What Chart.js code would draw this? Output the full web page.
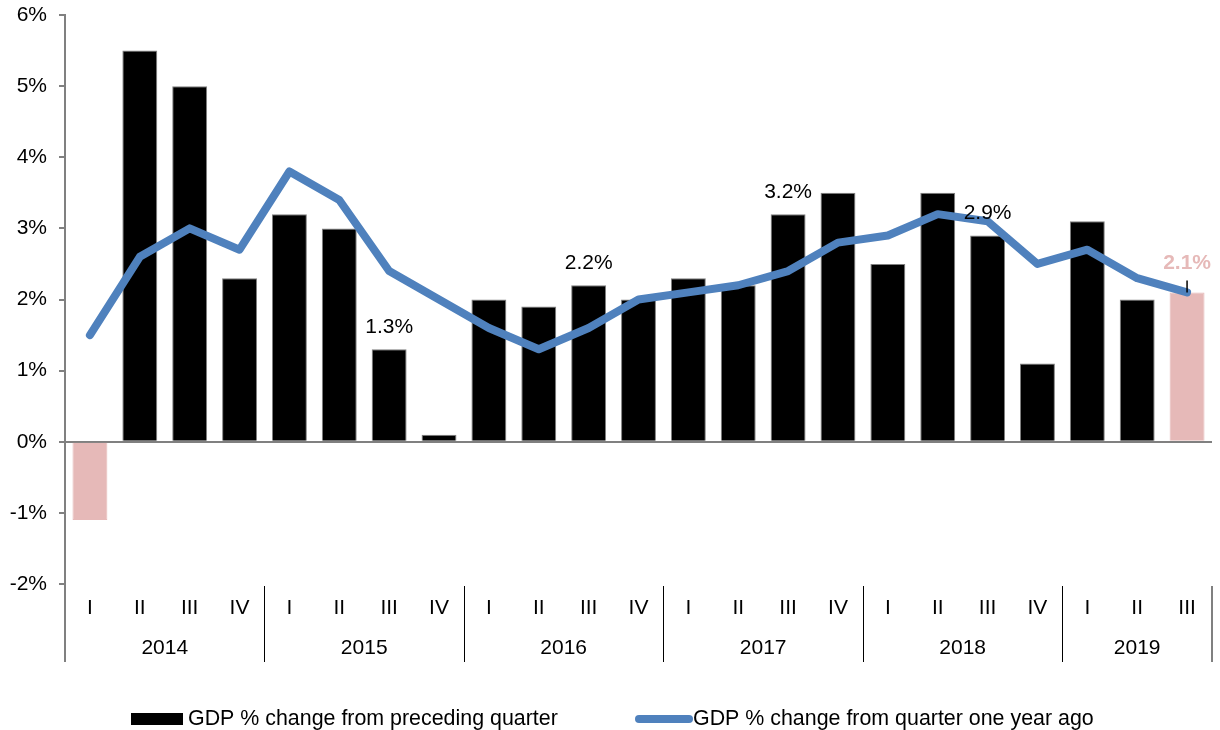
<!DOCTYPE html>
<html>
<head>
<meta charset="utf-8">
<script src="https://cdn.jsdelivr.net/npm/chart.js@4"></script>
<style>
  html, body { margin: 0; padding: 0; background: #fff; }
  #wrap { width: 1220px; height: 730px; position: relative; }
</style>
</head>
<body>
<div id="wrap"><canvas id="gdpChart" width="1220" height="730"></canvas></div>
<script>
const years    = ['2014', '2015', '2016', '2017', '2018', '2019'];
const quarters = ['I','II','III','IV','I','II','III','IV','I','II','III','IV',
                  'I','II','III','IV','I','II','III','IV','I','II','III'];
const qoq = [-1.1, 5.5, 5.0, 2.3, 3.2, 3.0, 1.3, 0.1, 2.0, 1.9, 2.2, 2.0,
             2.3, 2.2, 3.2, 3.5, 2.5, 3.5, 2.9, 1.1, 3.1, 2.0, 2.1];
const yoy = [1.5, 2.6, 3.0, 2.7, 3.8, 3.4, 2.4, 2.0, 1.6, 1.3, 1.6, 2.0,
             2.1, 2.2, 2.4, 2.8, 2.9, 3.2, 3.1, 2.5, 2.7, 2.3, 2.1];
const labelIdx = [6, 10, 14, 18, 22];   // bars with a value label
const pinkIdx  = [0, 22];               // highlighted bars

const FONT = '"Liberation Sans", Arial, sans-serif';
const FS = 21;
const PINK = '#e6b9b8';
const BLUE = '#4f81bd';

const barColors = qoq.map((v, i) => pinkIdx.includes(i) ? PINK : '#000');
const barBorders = qoq.map((v, i) => pinkIdx.includes(i) ? PINK : '#7f7f7f');

const extras = {
  id: 'extras',
  afterDatasetsDraw(chart) {
    const { ctx, scales: { x, y } } = chart;
    ctx.save();
    ctx.font = FS + 'px ' + FONT;
    ctx.textAlign = 'center';
    ctx.textBaseline = 'middle';
    labelIdx.forEach(i => {
      const px = x.getPixelForValue(i);
      const py = y.getPixelForValue(qoq[i]);
      const last = i === qoq.length - 1;
      if (last) {
        ctx.strokeStyle = '#000';
        ctx.lineWidth = 1.5;
        ctx.beginPath();
        ctx.moveTo(px, py - 12);
        ctx.lineTo(px, py);
        ctx.stroke();
        ctx.font = 'bold ' + FS + 'px ' + FONT;
        ctx.fillStyle = PINK;
        ctx.fillText(qoq[i].toFixed(1) + '%', px, py - 29);
        ctx.font = FS + 'px ' + FONT;
      } else {
        ctx.fillStyle = '#000';
        ctx.fillText(qoq[i].toFixed(1) + '%', px, py - 22);
      }
    });
    ctx.restore();
  },
  afterDraw(chart) {
    const { ctx, chartArea: ca, scales: { x } } = chart;
    const step = x.getPixelForValue(1) - x.getPixelForValue(0);
    ctx.save();
    // quarter labels
    ctx.font = FS + 'px ' + FONT;
    ctx.fillStyle = '#000';
    ctx.textAlign = 'center';
    ctx.textBaseline = 'middle';
    quarters.forEach((q, i) => ctx.fillText(q, x.getPixelForValue(i), ca.bottom + 24));
    // years and separators
    years.forEach((yr, k) => {
      const first = k * 4;
      const lastI = Math.min(first + 3, quarters.length - 1);
      const mid = (x.getPixelForValue(first) + x.getPixelForValue(lastI)) / 2;
      ctx.fillText(yr, mid, ca.bottom + 64);
      if (k > 0) {
        const sx = Math.round(x.getPixelForValue(first) - step / 2) + 0.5;
        ctx.strokeStyle = '#000';
        ctx.lineWidth = 1;
        ctx.beginPath();
        ctx.moveTo(sx, ca.bottom + 2);
        ctx.lineTo(sx, ca.bottom + 78);
        ctx.stroke();
      }
    });
    ctx.strokeStyle = '#808080';
    ctx.lineWidth = 2;
    ctx.beginPath();
    ctx.moveTo(ca.left, ca.bottom);
    ctx.lineTo(ca.left, ca.bottom + 78);
    ctx.moveTo(ca.right, ca.bottom + 2);
    ctx.lineTo(ca.right, ca.bottom + 78);
    ctx.stroke();

    // legend
    const ly = 719;
    ctx.font = '21.4px ' + FONT;
    ctx.fillStyle = '#000';
    ctx.fillRect(131, ly - 6, 52, 12);
    ctx.textAlign = 'left';
    ctx.fillText(chart.data.datasets[1].label, 188, ly);
    ctx.strokeStyle = BLUE;
    ctx.lineWidth = 8;
    ctx.lineCap = 'round';
    ctx.beginPath();
    ctx.moveTo(639, ly);
    ctx.lineTo(689, ly);
    ctx.stroke();
    ctx.fillStyle = '#000';
    ctx.fillText(chart.data.datasets[0].label, 693, ly);
    ctx.restore();
  }
};

new Chart(document.getElementById('gdpChart').getContext('2d'), {
  data: {
    labels: quarters,
    datasets: [
      {
        type: 'line',
        label: 'GDP % change from quarter one year ago',
        data: yoy,
        borderColor: BLUE,
        borderWidth: 8,
        borderCapStyle: 'round',
        borderJoinStyle: 'round',
        pointRadius: 0,
        tension: 0,
        order: 0
      },
      {
        type: 'bar',
        label: 'GDP % change from preceding quarter',
        data: qoq,
        backgroundColor: barColors,
        borderColor: barBorders,
        borderWidth: 1,
        barPercentage: 0.7,
        categoryPercentage: 1,
        order: 1
      }
    ]
  },
  options: {
    responsive: false,
    animation: false,
    layout: { padding: { top: 15, right: 8, left: 0, bottom: 0 } },
    plugins: { legend: { display: false }, tooltip: { enabled: false } },
    scales: {
      x: {
        grid: { display: false },
        border: { display: false },
        ticks: { display: false },
        afterFit: s => { s.height = 146; }
      },
      y: {
        min: -2, max: 6,
        ticks: {
          stepSize: 1,
          padding: 12,
          color: '#000',
          font: { family: FONT, size: FS },
          callback: v => v + '%'
        },
        grid: {
          drawOnChartArea: true,
          color: c => (c.tick && c.tick.value === 0) ? '#808080' : 'rgba(0,0,0,0)',
          lineWidth: 2,
          tickColor: '#808080',
          tickLength: 6
        },
        border: { color: '#808080', width: 2 },
        afterFit: s => { s.width = 65; s.paddingTop = 0; s.paddingBottom = 0; }
      }
    }
  },
  plugins: [extras]
});
</script>
</body>
</html>
